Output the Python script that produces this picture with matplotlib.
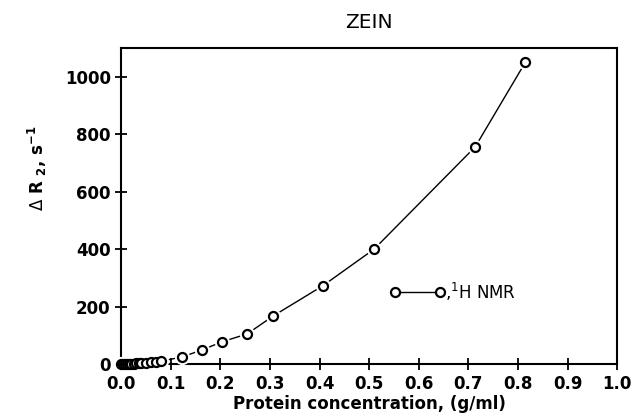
import matplotlib
matplotlib.use("Agg")
import matplotlib.pyplot as plt
import numpy as np

# данные
conc = [0.0, 0.004, 0.008, 0.012, 0.016, 0.02, 0.025, 0.03, 0.035, 0.04, 0.05,
        0.06, 0.07, 0.08, 0.123, 0.164, 0.204, 0.254, 0.307, 0.407, 0.51,
        0.714, 0.815]
dR2 = [0, 0, 1, 1, 1, 2, 2, 3, 3, 4, 5, 6, 8, 10, 25, 50, 78, 105, 168, 273,
       400, 756, 1050]

xticks = np.arange(0, 1.01, 0.1)
yticks = [0, 200, 400, 600, 800, 1000]

plt.rcParams['font.family'] = ['DejaVu Sans']

fig = plt.figure(figsize=[6.31, 4.20], dpi=100)
ax = fig.add_axes([0.192, 0.133, 0.786, 0.753])

ax.plot(conc, dR2, color='black', lw=1.0, zorder=2)
# белые кружки дают разрывы линии около маркеров
ax.plot(conc, dR2, ls='none', marker='o', ms=11, mfc='white', mec='none',
        zorder=3, clip_on=False)
ax.plot(conc, dR2, ls='none', marker='o', ms=6.5, mfc='white', mec='black',
        mew=1.6, zorder=4, clip_on=False)

# "легенда"
ax.plot([0.552, 0.643], [251, 251], color='black', lw=1.0, marker='o', ms=6.5,
        mfc='white', mec='black', mew=1.6)
ax.text(0.652, 251, ",$^{\\mathregular{1}}$H NMR", fontsize=12, va='center', ha='left')

ax.set_xlim(0, 1.0)
ax.set_ylim(0, 1100)
ax.set_xticks(xticks)
ax.set_xticklabels(["%.1f" % v for v in xticks])
ax.set_yticks(yticks)
ax.tick_params(direction='inout', length=9, width=1.3, labelsize=12, pad=3)
for lab in ax.get_xticklabels() + ax.get_yticklabels():
    lab.set_fontweight('bold')
for s in ax.spines.values():
    s.set_linewidth(1.5)

ax.set_xlabel("Protein concentration, (g/ml)", fontsize=12, fontweight='bold', labelpad=2)
ax.set_ylabel("$\\Delta$ R $_{\\mathregular{2}}$, s$^{\\mathregular{-1}}$", fontsize=12,
              fontweight='bold')
ax.yaxis.set_label_coords(-0.145, 0.62)
ax.set_title("ZEIN", fontsize=14.5, pad=14)

fig.savefig("out.png", dpi=100)
